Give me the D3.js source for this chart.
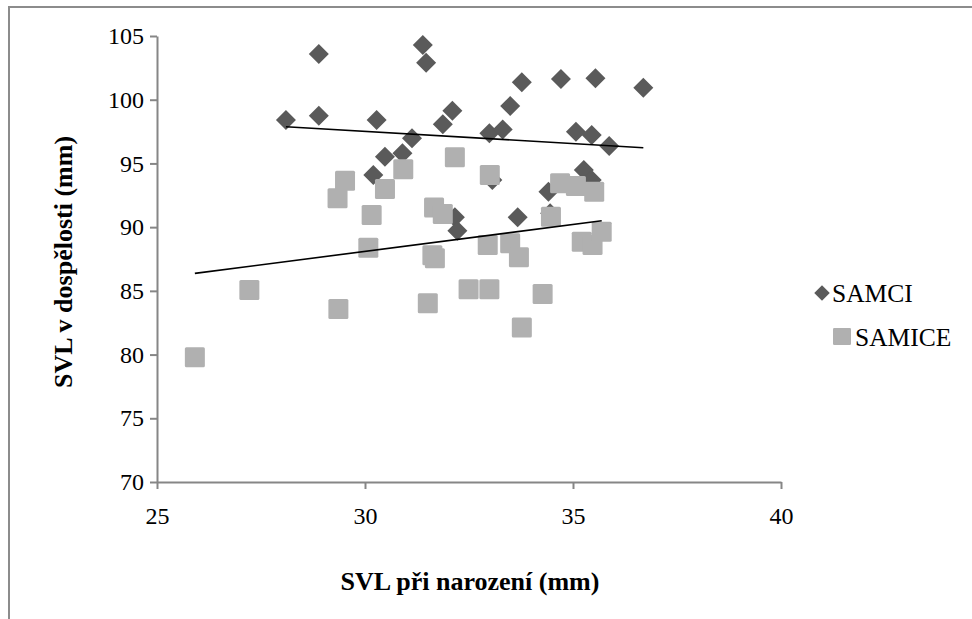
<!DOCTYPE html>
<meta charset="utf-8">
<style>
    body { margin: 0; background: #fff; }
    text { font-family: "Liberation Serif", "Times New Roman", serif; fill: #000; }
    .axis path, .axis line { stroke: #868686; stroke-width: 2; }
    .axis text { font-size: 24px; }
    .title { font-size: 26px; font-weight: bold; }
    .legend text { font-size: 25.5px; }
</style>
<svg width="972" height="619"></svg>
<script src="https://d3js.org/d3.v7.min.js"></script>
<script>

    // SVL pri narozeni (x) / SVL v dospelosti (y), mm
    var samciX = [28.10, 28.89, 28.89, 30.20, 30.28, 30.48, 30.90, 31.13, 31.39, 31.47,
                  31.87, 32.10, 32.16, 32.22, 32.99, 33.06, 33.31, 33.49, 33.67, 33.77,
                  34.41, 34.45, 34.71, 35.07, 35.26, 35.45, 35.45, 35.54, 35.87, 36.69];
    var samciY = [98.41, 103.59, 98.74, 94.10, 98.41, 95.53, 95.79, 96.97, 104.29, 102.90,
                  98.07, 99.14, 90.77, 89.72, 97.36, 93.70, 97.67, 99.51, 90.77, 101.37,
                  92.78, 91.10, 101.62, 97.49, 94.48, 93.70, 97.23, 101.68, 96.37, 100.94];

    var samiceX = [25.91, 27.22, 29.34, 29.36, 29.52, 30.08, 30.16, 30.48, 30.92, 31.51,
                   31.62, 31.68, 31.66, 31.87, 32.16, 32.49, 32.95, 32.99, 33.00, 33.49,
                   33.70, 33.77, 34.27, 34.47, 34.69, 35.07, 35.21, 35.47, 35.51, 35.69];
    var samiceY = [79.78, 85.06, 92.26, 83.57, 93.64, 88.38, 90.95, 92.99, 94.54, 84.02,
                   87.80, 87.55, 91.55, 91.03, 95.48, 85.12, 88.60, 85.12, 94.09, 88.73,
                   87.63, 82.13, 84.75, 90.82, 93.44, 93.23, 88.85, 88.60, 92.78, 89.64];

    // linear trend lines: [x start, x end], [y start, y end]
    var trendSamciX = [28.10, 36.69], trendSamciY = [97.88, 96.23];
    var trendSamiceX = [25.91, 35.69], trendSamiceY = [86.37, 90.50];

    var xTicks = [25, 30, 35, 40];
    var yTicks = [70, 75, 80, 85, 90, 95, 100, 105];
    var seriesNames = ["SAMCI", "SAMICE"];

    var svg = d3.select("svg");

    // outer chart border (right and bottom edges fall outside the picture)
    svg.append("rect")
        .attr("x", 9).attr("y", 7)
        .attr("width", 1000).attr("height", 700)
        .attr("fill", "none")
        .attr("stroke", "#8c8c8c")
        .attr("stroke-width", 2);

    var x = d3.scaleLinear().domain([25, 40]).range([157, 781]),
        y = d3.scaleLinear().domain([70, 105]).range([482, 36]);

    svg.append("g")
        .attr("class", "axis")
        .attr("transform", "translate(0,482)")
        .call(d3.axisBottom(x).tickValues(xTicks).tickSize(7).tickSizeOuter(0).tickPadding(18));

    svg.append("g")
        .attr("class", "axis")
        .attr("transform", "translate(157,0)")
        .call(d3.axisLeft(y).tickValues(yTicks).tickSize(7).tickSizeOuter(0).tickPadding(6));

    svg.selectAll(".axis text").attr("fill", "#000");

    function zip(a, b) { return a.map(function(v, i) { return [v, b[i]]; }); }
    var samci = zip(samciX, samciY),
        samice = zip(samiceX, samiceY);

    var diamond = d3.symbol().type(d3.symbolSquare).size(200);

    svg.append("g").selectAll("path")
        .data(samci)
        .enter().append("path")
        .attr("d", diamond)
        .attr("fill", "#5a5a5a")
        .attr("transform", function(d) { return "translate(" + x(d[0]) + "," + y(d[1]) + ") rotate(45)"; });

    svg.append("g").selectAll("rect")
        .data(samice)
        .enter().append("rect")
        .attr("x", function(d) { return x(d[0]) - 10; })
        .attr("y", function(d) { return y(d[1]) - 10; })
        .attr("width", 20).attr("height", 20)
        .attr("rx", 1.5)
        .attr("fill", "#b0b0b0");

    var line = d3.line()
        .x(function(d) { return x(d[0]); })
        .y(function(d) { return y(d[1]); });

    [zip(trendSamciX, trendSamciY), zip(trendSamiceX, trendSamiceY)].forEach(function(t) {
        svg.append("path")
            .datum(t)
            .attr("d", line)
            .attr("fill", "none")
            .attr("stroke", "#000")
            .attr("stroke-width", 1.6);
    });

    // axis titles
    svg.append("text")
        .attr("class", "title")
        .attr("x", 470).attr("y", 590)
        .attr("text-anchor", "middle")
        .text("SVL při narození (mm)");

    svg.append("text")
        .attr("class", "title")
        .attr("transform", "translate(72,262) rotate(-90)")
        .attr("text-anchor", "middle")
        .text("SVL v dospělosti (mm)");

    // legend
    var legend = svg.append("g").attr("class", "legend");

    legend.append("path")
        .attr("d", d3.symbol().type(d3.symbolSquare).size(120))
        .attr("fill", "#5a5a5a")
        .attr("transform", "translate(822,293) rotate(45)");
    legend.append("text")
        .attr("x", 832).attr("y", 302)
        .text(seriesNames[0]);

    legend.append("rect")
        .attr("x", 833).attr("y", 328)
        .attr("width", 18).attr("height", 17)
        .attr("rx", 1.2)
        .attr("fill", "#b0b0b0");
    legend.append("text")
        .attr("x", 855).attr("y", 346)
        .text(seriesNames[1]);

</script>
